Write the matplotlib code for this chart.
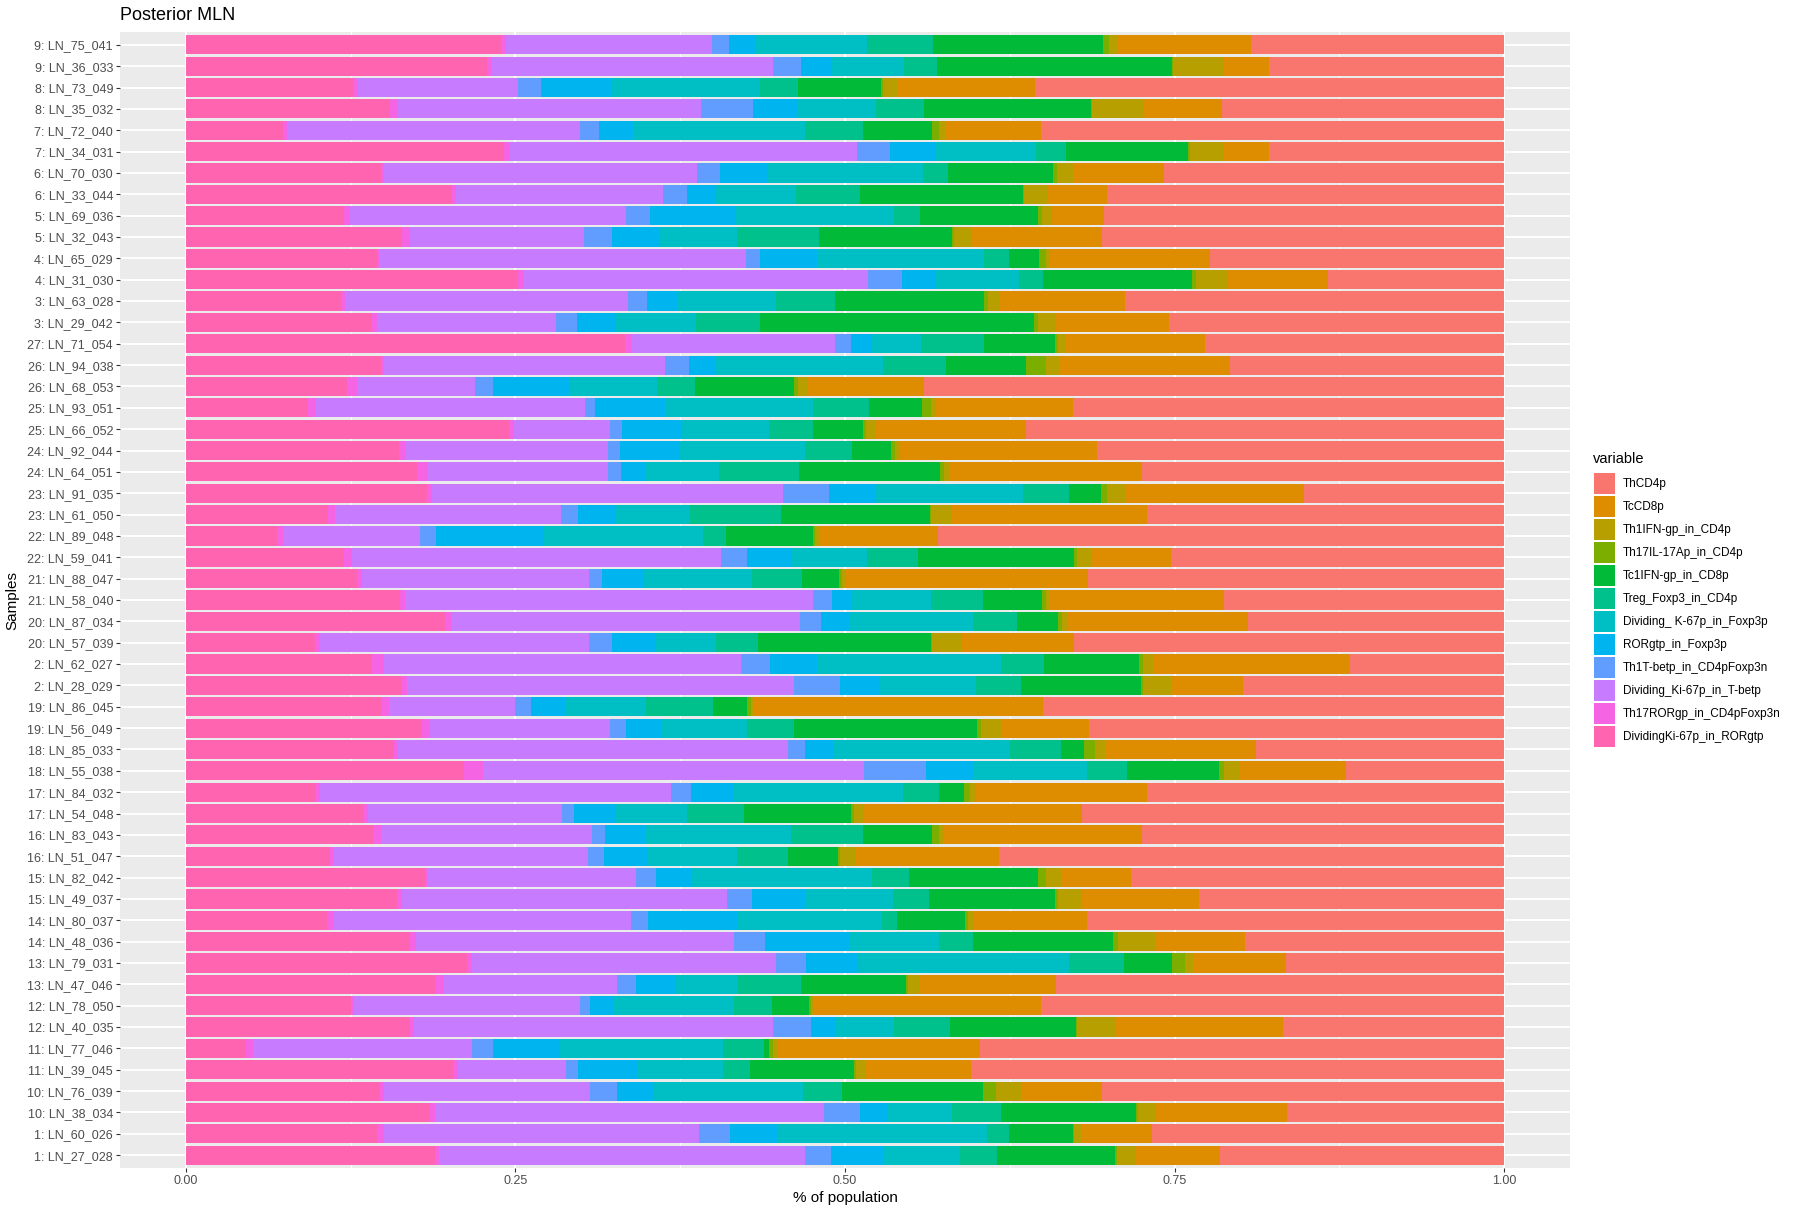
import numpy as np
import matplotlib.pyplot as plt
from matplotlib.patches import Patch

plt.rcParams['font.family'] = ['Liberation Sans', 'DejaVu Sans']

# samples, listed top to bottom as they appear on the chart
samples = [
    "9: LN_75_041", "9: LN_36_033", "8: LN_73_049", "8: LN_35_032", "7: LN_72_040",
    "7: LN_34_031", "6: LN_70_030", "6: LN_33_044", "5: LN_69_036", "5: LN_32_043",
    "4: LN_65_029", "4: LN_31_030", "3: LN_63_028", "3: LN_29_042", "27: LN_71_054",
    "26: LN_94_038", "26: LN_68_053", "25: LN_93_051", "25: LN_66_052", "24: LN_92_044",
    "24: LN_64_051", "23: LN_91_035", "23: LN_61_050", "22: LN_89_048", "22: LN_59_041",
    "21: LN_88_047", "21: LN_58_040", "20: LN_87_034", "20: LN_57_039", "2: LN_62_027",
    "2: LN_28_029", "19: LN_86_045", "19: LN_56_049", "18: LN_85_033", "18: LN_55_038",
    "17: LN_84_032", "17: LN_54_048", "16: LN_83_043", "16: LN_51_047", "15: LN_82_042",
    "15: LN_49_037", "14: LN_80_037", "14: LN_48_036", "13: LN_79_031", "13: LN_47_046",
    "12: LN_78_050", "12: LN_40_035", "11: LN_77_046", "11: LN_39_045", "10: LN_76_039",
    "10: LN_38_034", "1: LN_60_026", "1: LN_27_028",
]

# % of population per variable, same sample order
div_ki67_rorgt = [23.9, 22.8, 12.7, 15.5, 7.4, 24.2, 14.8, 20.2, 12.0, 16.4,
                  14.5, 25.2, 11.8, 14.1, 33.3, 14.8, 12.2, 9.3, 24.5, 16.2,
                  17.6, 18.3, 10.8, 6.9, 12.0, 13.0, 16.2, 19.7, 9.8, 14.1,
                  16.4, 14.9, 17.9, 15.8, 21.1, 9.9, 13.5, 14.2, 10.9, 18.1,
                  16.0, 10.7, 17.0, 21.3, 18.9, 12.5, 17.0, 4.6, 20.3, 14.7,
                  18.5, 14.5, 18.9]
th17_rorg = [0.4, 0.4, 0.4, 0.6, 0.3, 0.4, 0.2, 0.3, 0.4, 0.6,
             0.2, 0.5, 0.3, 0.4, 0.5, 0.2, 0.8, 0.6, 0.4, 0.5,
             0.8, 0.4, 0.5, 0.5, 0.6, 0.4, 0.4, 0.5, 0.4, 0.9,
             0.4, 0.5, 0.6, 0.3, 1.4, 0.3, 0.3, 0.6, 0.3, 0.2,
             0.4, 0.5, 0.5, 0.4, 0.7, 0.3, 0.3, 0.5, 0.4, 0.3,
             0.4, 0.5, 0.3]
div_ki67_tbet = [15.6, 21.3, 12.1, 22.9, 22.2, 26.4, 23.8, 15.7, 20.9, 13.2,
                 27.8, 26.1, 21.5, 13.5, 15.4, 21.3, 8.9, 20.4, 7.3, 15.3,
                 13.7, 26.6, 17.2, 10.4, 28.0, 17.2, 30.9, 26.5, 20.4, 27.1,
                 29.4, 9.6, 13.7, 29.6, 28.9, 26.6, 14.7, 16.0, 19.3, 15.8,
                 24.6, 22.5, 24.1, 23.0, 13.1, 17.1, 27.3, 16.6, 8.2, 15.6,
                 29.5, 23.9, 27.7]
th1_tbet = [1.3, 2.1, 1.8, 4.0, 1.4, 2.5, 1.7, 1.8, 1.8, 2.1,
            1.1, 2.6, 1.4, 1.6, 1.2, 1.8, 1.4, 0.8, 0.9, 0.9,
            1.0, 3.5, 1.3, 1.2, 2.0, 1.0, 1.5, 1.6, 1.7, 2.2,
            3.5, 1.2, 1.2, 1.3, 4.7, 1.5, 0.9, 1.0, 1.2, 1.5,
            1.9, 1.3, 2.4, 2.3, 1.5, 0.8, 2.9, 1.6, 0.9, 2.1,
            2.7, 2.3, 2.0]
rorgt_foxp3 = [2.0, 2.4, 5.3, 3.4, 2.6, 3.5, 3.6, 2.2, 6.5, 3.6,
               4.3, 2.5, 2.4, 3.0, 1.6, 2.0, 5.8, 5.3, 4.5, 4.6,
               1.8, 3.5, 2.8, 8.1, 3.3, 3.2, 1.4, 2.2, 3.4, 3.6,
               2.9, 2.6, 2.7, 2.2, 3.6, 3.2, 3.1, 3.0, 3.3, 2.7,
               4.0, 6.8, 6.4, 3.9, 3.0, 1.7, 1.8, 5.0, 4.5, 2.8,
               2.1, 3.7, 3.9]
div_ki67_foxp3 = [8.5, 5.4, 11.3, 5.9, 13.1, 7.6, 11.8, 6.1, 12.0, 5.9,
                  12.7, 6.4, 7.4, 6.0, 3.7, 12.7, 6.6, 11.2, 6.6, 9.5,
                  5.6, 11.2, 5.7, 12.2, 5.8, 8.2, 6.1, 9.3, 4.5, 13.9,
                  7.4, 6.1, 6.5, 13.3, 8.6, 12.9, 5.5, 11.1, 6.8, 13.7,
                  6.7, 10.9, 6.8, 16.0, 4.7, 9.2, 4.5, 12.5, 6.5, 11.3,
                  4.9, 15.8, 5.9]
treg_foxp3 = [5.0, 2.5, 2.9, 3.6, 4.4, 2.3, 1.9, 4.8, 2.0, 6.2,
              1.9, 1.8, 4.5, 4.9, 4.8, 4.8, 2.9, 4.3, 3.4, 3.5,
              6.1, 3.5, 6.9, 1.7, 3.8, 3.8, 3.9, 3.4, 3.2, 3.3,
              3.4, 5.1, 3.5, 3.9, 3.0, 2.7, 4.3, 5.5, 3.8, 2.8,
              2.7, 1.1, 2.6, 4.2, 4.8, 2.9, 4.2, 3.1, 2.1, 2.9,
              3.7, 1.7, 2.8]
tc1_ifng = [12.9, 17.8, 6.3, 12.7, 5.2, 9.3, 8.0, 12.4, 8.9, 10.1,
            2.3, 11.3, 11.3, 20.7, 5.4, 6.1, 7.5, 4.0, 3.8, 3.0,
            10.7, 2.4, 11.3, 6.6, 11.9, 2.8, 4.5, 3.1, 13.1, 7.2,
            9.1, 2.6, 13.9, 1.7, 7.0, 1.9, 8.1, 5.2, 3.8, 9.8,
            9.6, 5.2, 10.6, 3.6, 8.0, 2.8, 9.6, 0.4, 7.9, 10.7,
            10.3, 4.8, 8.9]
th17_il17a = [0.4, 0.1, 0.1, 0.1, 0.5, 0.1, 0.3, 0.1, 0.3, 0.2,
              0.5, 0.3, 0.3, 0.3, 0.2, 1.5, 0.3, 0.7, 0.2, 0.3,
              0.3, 0.5, 0.1, 0.2, 0.2, 0.2, 0.3, 0.3, 0.1, 0.3,
              0.2, 0.3, 0.3, 0.9, 0.4, 0.5, 0.2, 0.5, 0.2, 0.6,
              0.2, 0.2, 0.4, 1.0, 0.1, 0.2, 0.1, 0.3, 0.1, 1.0,
              0.1, 0.1, 0.2]
th1_ifng = [0.7, 3.9, 1.1, 3.8, 0.5, 2.6, 1.2, 1.7, 0.8, 1.3,
            0.3, 2.4, 0.9, 1.4, 0.6, 1.0, 0.8, 0.3, 0.7, 0.4,
            0.5, 1.4, 1.5, 0.3, 1.1, 0.3, 0.2, 0.4, 2.3, 0.8,
            2.1, 0.1, 1.5, 0.7, 1.2, 0.4, 0.7, 0.4, 1.1, 1.1,
            1.8, 0.4, 2.8, 0.6, 0.9, 0.2, 2.9, 0.4, 0.8, 1.9,
            1.4, 0.5, 1.4]
tc_cd8 = [10.1, 3.4, 10.5, 6.0, 7.3, 3.4, 6.9, 4.6, 3.9, 9.9,
          12.2, 7.6, 9.5, 8.5, 10.5, 12.9, 8.8, 10.5, 11.4, 14.9,
          14.6, 13.5, 14.9, 9.0, 6.0, 18.4, 13.3, 13.7, 8.5, 14.9,
          5.5, 22.0, 6.7, 11.5, 8.0, 13.0, 16.6, 15.0, 10.9, 5.3,
          8.9, 8.6, 6.8, 7.1, 10.4, 17.2, 12.7, 15.3, 8.0, 6.1,
          9.9, 5.4, 6.4]
th_cd4 = [19.2, 17.8, 35.6, 21.4, 35.1, 17.9, 25.8, 30.1, 30.3, 30.5,
          22.3, 13.4, 28.8, 25.4, 22.7, 20.8, 44.0, 32.7, 36.3, 30.9,
          27.5, 15.2, 27.1, 43.0, 25.3, 31.6, 21.2, 19.5, 32.6, 11.7,
          19.8, 35.0, 31.5, 18.8, 12.0, 27.1, 32.0, 27.5, 38.3, 28.3,
          23.1, 31.6, 19.7, 16.5, 34.0, 35.2, 16.8, 39.8, 40.5, 30.5,
          16.5, 26.7, 21.5]

# legend order (ThCD4p first); bars stack from the last one on the left
variables = ["ThCD4p", "TcCD8p", "Th1IFN-gp_in_CD4p", "Th17IL-17Ap_in_CD4p",
             "Tc1IFN-gp_in_CD8p", "Treg_Foxp3_in_CD4p", "Dividing_ K-67p_in_Foxp3p",
             "RORgtp_in_Foxp3p", "Th1T-betp_in_CD4pFoxp3n", "Dividing_Ki-67p_in_T-betp",
             "Th17RORgp_in_CD4pFoxp3n", "DividingKi-67p_in_RORgtp"]
colours = ["#F8766D", "#DE8C00", "#B79F00", "#7CAE00", "#00BA38", "#00C08B",
           "#00BFC4", "#00B4F0", "#619CFF", "#C77CFF", "#F564E3", "#FF64B0"]
series = [th_cd4, tc_cd8, th1_ifng, th17_il17a, tc1_ifng, treg_foxp3,
          div_ki67_foxp3, rorgt_foxp3, th1_tbet, div_ki67_tbet, th17_rorg, div_ki67_rorgt]

values = np.array(series, dtype=float)
frac = values / values.sum(axis=0)  # position = "fill"

fig = plt.figure(figsize=(18, 12.15), dpi=100)
ax = fig.add_axes([120 / 1800, 1 - 1168 / 1215, 1450 / 1800, 1136 / 1215])
ax.set_facecolor("#EBEBEB")

y = np.arange(len(samples))[::-1] + 1
left = np.zeros(len(samples))
for k in range(len(series) - 1, -1, -1):
    ax.barh(y, frac[k], left=left, height=0.9, color=colours[k], linewidth=0, zorder=3)
    left += frac[k]

ax.set_xlim(-0.05, 1.05)
ax.set_ylim(0.4, len(samples) + 0.6)
ax.set_xticks([0, 0.25, 0.5, 0.75, 1.0])
ax.set_xticklabels(["0.00", "0.25", "0.50", "0.75", "1.00"])
ax.set_xticks([0.125, 0.375, 0.625, 0.875], minor=True)
ax.set_yticks(y)
ax.set_yticklabels(samples)
ax.grid(which="major", color="white", linewidth=1.3, zorder=1)
ax.grid(which="minor", axis="x", color="white", linewidth=0.6, zorder=1)
ax.set_axisbelow(True)
for s in ax.spines.values():
    s.set_visible(False)
ax.tick_params(axis="both", which="major", length=3, width=0.8, color="#333333",
               labelcolor="#4D4D4D", labelsize=9, pad=2)
ax.tick_params(axis="x", which="minor", length=0)

fig.text(120 / 1800, 1 - 16 / 1215, "Posterior MLN", fontsize=13, ha="left", va="center")
fig.text(845 / 1800, 1 - 1198 / 1215, "% of population", fontsize=11, ha="center", va="center")
fig.text(12 / 1800, 1 - 600 / 1215, "Samples", fontsize=11, ha="center", va="center", rotation=90)

# legend: title placed on its own, keys below it
fig.text(1593 / 1800, 1 - 459 / 1215, "variable", fontsize=10.5, ha="left", va="center")
handles = [Patch(facecolor=c, edgecolor="none") for c in colours]
leg = fig.legend(handles, variables, loc="upper left", bbox_to_anchor=(1594 / 1800, 1 - 473 / 1215),
                 frameon=False, fontsize=8.5,
                 handlelength=1.78, handleheight=2.36, labelspacing=0.17, handletextpad=0.68,
                 borderpad=0, borderaxespad=0)

fig.savefig("out.png", dpi=100)
